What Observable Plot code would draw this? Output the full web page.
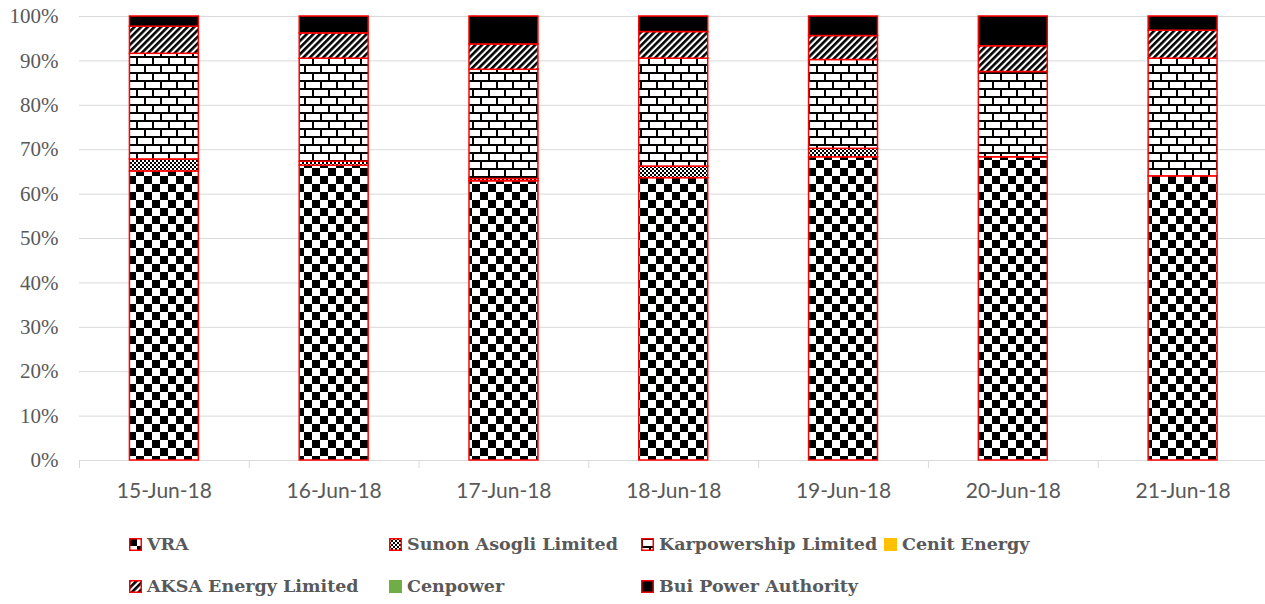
<!DOCTYPE html>
<html><head><meta charset="utf-8">
<script src="https://cdn.jsdelivr.net/npm/d3@7"></script>
<script src="https://cdn.jsdelivr.net/npm/@observablehq/plot@0.6"></script>
<style>
body{margin:0;background:#fff;width:1265px;height:604px;overflow:hidden;}
#chart svg{display:block;}
#legend{display:grid;grid-template-columns:260px 252px 243px auto;margin-left:129px;padding-top:8px;}
.item{display:flex;align-items:center;height:42px;font-family:"DejaVu Serif",serif;font-weight:bold;font-size:17.5px;color:#595959;white-space:nowrap;}
.item svg{margin-right:5px;flex:none;}
</style>
</head><body>
<div id="chart"></div>
<div id="legend"></div>
<script>
const dates = ["15-Jun-18","16-Jun-18","17-Jun-18","18-Jun-18","19-Jun-18","20-Jun-18","21-Jun-18"];
const companies = ["VRA","Sunon Asogli Limited","Karpowership Limited","Cenit Energy","AKSA Energy Limited","Cenpower","Bui Power Authority"];
const vra          = [65.1, 66.4, 62.9, 63.6, 68.3, 68.3, 64.0];
const sunonAsogli  = [2.7, 0.9, 0.5, 2.6, 1.9, 0, 0];
const karpowership = [23.8, 23.2, 24.6, 24.3, 20.0, 19.2, 26.5];
const cenitEnergy  = [0, 0, 0, 0, 0, 0, 0];
const aksaEnergy   = [6.1, 5.7, 5.7, 6.0, 5.4, 5.8, 6.3];
const cenpower     = [0, 0, 0, 0, 0, 0, 0];
const buiPower     = [2.3, 3.8, 6.3, 3.5, 4.4, 6.7, 3.2];
const yTicks = [0, 10, 20, 30, 40, 50, 60, 70, 80, 90, 100];

const seriesValues = [vra, sunonAsogli, karpowership, cenitEnergy, aksaEnergy, cenpower, buiPower];
const fills = ["url(#pat-vra)", "url(#pat-sunon)", "url(#pat-karp)", "#FFC000", "url(#pat-aksa)", "#70AD47", "#000000"];
const bordered = [true, true, true, false, true, false, true];

const rows = [];
dates.forEach((date, i) => {
  companies.forEach((company, j) => {
    rows.push({date, company, value: seriesValues[j][i]});
  });
});

const width = 1265, height = 515;
const xRange = [79, 1267.5];
const step = (xRange[1] - xRange[0]) / dates.length;

const chart = Plot.plot({
  width, height,
  marginTop: 16, marginBottom: 55, marginLeft: 79, marginRight: 0,
  style: {background: "#fff", color: "#595959", overflow: "visible"},
  x: {domain: dates, range: xRange, round: false, paddingInner: 0.594, paddingOuter: 0.297, label: null, tickSize: 0, tickPadding: 23},
  y: {domain: [0, 100], ticks: yTicks, tickFormat: d => d + "%", label: null, tickSize: 0, tickPadding: 21},
  color: {type: "ordinal", domain: companies, range: fills},
  marks: [
    Plot.ruleY(yTicks, {y: d => d, stroke: "#d9d9d9", strokeWidth: 1}),
    Plot.ruleX(dates, {x: d => d, y1: 0, y2: -1.8, dx: -step / 2, stroke: "#d9d9d9"}),
    Plot.ruleX(dates.slice(-1), {x: d => d, y1: 0, y2: -1.8, dx: step / 2, stroke: "#d9d9d9"}),
    Plot.barY(rows, Plot.stackY({
      x: "date", y: "value", fill: "company", z: "company",
      filter: d => d.value > 0,
      stroke: "#ff0000", strokeWidth: 1.5
    }))
  ]
});

document.getElementById("chart").appendChild(chart);
const svg = d3.select(chart);
svg.insert("defs", ":first-child").html(`
  <pattern id="pat-vra" patternUnits="userSpaceOnUse" width="16" height="16">
    <rect width="16" height="16" fill="#fff"/>
    <rect x="0" y="0" width="8" height="8" fill="#000"/>
    <rect x="8" y="8" width="8" height="8" fill="#000"/>
  </pattern>
  <pattern id="pat-sunon" patternUnits="userSpaceOnUse" width="4" height="4">
    <rect width="4" height="4" fill="#fff"/>
    <rect x="0" y="0" width="2" height="2" fill="#000"/>
    <rect x="2" y="2" width="2" height="2" fill="#000"/>
  </pattern>
  <pattern id="pat-karp" patternUnits="userSpaceOnUse" width="16" height="16">
    <rect width="16" height="16" fill="#fff"/>
    <rect x="0" y="0" width="16" height="2" fill="#000"/>
    <rect x="0" y="8" width="16" height="2" fill="#000"/>
    <rect x="0" y="2" width="2" height="6" fill="#000"/>
    <rect x="8" y="10" width="2" height="6" fill="#000"/>
  </pattern>
  <pattern id="pat-aksa" patternUnits="userSpaceOnUse" width="4.7" height="4.7" patternTransform="rotate(45)">
    <rect width="4.7" height="4.7" fill="#fff"/>
    <rect x="0" y="0" width="2.6" height="4.7" fill="#000"/>
  </pattern>
`);
svg.selectAll('g[aria-label^="y-axis"] text')
  .style("font-family", '"Liberation Serif", serif').style("font-size", "21px").attr("fill", "#595959");
svg.selectAll('g[aria-label^="x-axis"] text')
  .style("font-family", 'Lato, sans-serif').style("font-size", "21px").attr("fill", "#595959");

const legend = d3.select("#legend");
companies.forEach((c, j) => {
  const item = legend.append("div").attr("class", "item");
  const sw = item.append("svg").attr("width", 13).attr("height", 13);
  if (bordered[j]) {
    sw.append("rect").attr("x", 0.75).attr("y", 0.75).attr("width", 11.5).attr("height", 11.5)
      .attr("fill", fills[j]).attr("stroke", "#ff0000").attr("stroke-width", 1.5);
  } else {
    sw.append("rect").attr("width", 13).attr("height", 13).attr("fill", fills[j]);
  }
  item.append("span").text(c);
});
</script>
</body></html>
